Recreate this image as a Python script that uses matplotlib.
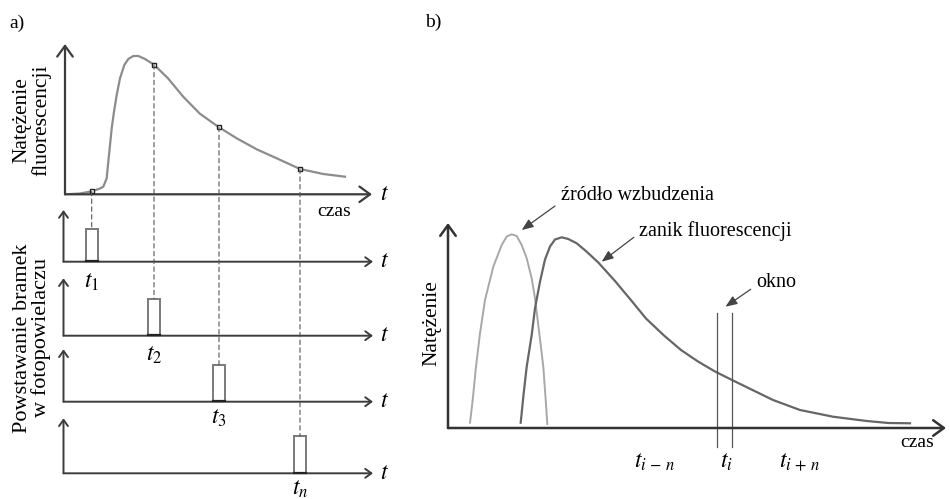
import matplotlib.pyplot as plt
from matplotlib.patches import Rectangle, ConnectionPatch
from matplotlib.transforms import Affine2D

plt.rcParams['font.family'] = ['Liberation Serif', 'DejaVu Serif']
plt.rcParams['mathtext.fontset'] = 'stix'

W, H = 950, 499

# a) fluorescence intensity after excitation
curve_t = [0, 15, 26.7, 35, 38.3, 41.7, 43.3, 45, 46.7, 49, 51.7, 55, 59.3, 63.3, 68.3,
           73.3, 80, 89, 103, 118.3, 135, 154, 171.7, 191.7, 211.7, 235, 258.3, 280]
curve_i = [0, 0.8, 3, 5.8, 7.6, 16, 32.6, 49.3, 66, 82.6, 99.3, 116, 129.3, 135.3, 138.3,
           138.3, 135.3, 129.6, 116, 97.5, 80.5, 67, 56, 45, 36, 25.3, 20.3, 17.6]

# sampling gates
gate_t = [26.7, 89, 154, 235]
gate_i = [3, 129.6, 67, 25.3]
gate_h = [33, 37, 37, 37]
gate_width = 12
gate_labels = [r'$t_1$', r'$t_2$', r'$t_3$', r'$t_n$']

# b) excitation pulse and fluorescence decay
exc_t = [22, 24.7, 28, 32, 37, 45.3, 53.7, 58.7, 63.7, 68.7, 73.7, 78.7, 83.7, 87,
         91.3, 95.3, 97.7, 99.3]
exc_i = [5.3, 28, 61.3, 94.7, 128, 161.3, 183, 191.5, 193.7, 192, 183, 169.7, 149.7,
         129.7, 94.7, 61.3, 28, 4]
dec_t = [72.7, 75.5, 78.7, 83.7, 87, 92, 97, 102, 107, 113.7, 120.3, 128.7, 138.7, 150.3,
         167, 183.7, 198, 216, 233, 250, 267, 284, 301, 325, 352, 385, 418.7, 440.5, 462]
dec_i = [5.3, 33, 61.3, 93, 119.7, 146.3, 168.5, 181.5, 188.5, 190.7, 189, 184.7, 176.3,
         165.5, 147, 127, 109.5, 92.5, 78, 66.5, 56.5, 48, 39.7, 28, 18, 11.3, 7, 5, 4.7]
window_t = [269, 284]
window_labels = [r'$t_{i\,-\,n}$', r'$t_i$', r'$t_{i\,+\,n}$']
window_label_x = [655, 726, 800]

AX = '#3c3c3c'

fig = plt.figure(figsize=(W / 100, H / 100), dpi=100)
pix = Affine2D().scale(1 / W, -1 / H).translate(0, 1) + fig.transFigure


def px_axes(x0, y0, x1, y1):
    ax = fig.add_axes([x0 / W, 1 - y0 / H, (x1 - x0) / W, (y0 - y1) / H])
    ax.set_axis_off()
    return ax


def arrows(ax, lw, ms, color=AX):
    style = '->,head_length=0.55,head_width=0.4'
    for end in [(1, 0), (0, 1)]:
        ax.annotate('', xy=end, xytext=(0, 0), xycoords='axes fraction',
                    arrowprops=dict(arrowstyle=style, lw=lw, color=color,
                                    shrinkA=0, shrinkB=0, mutation_scale=ms))


def ptext(x, y, s, **kw):
    kw.setdefault('ha', 'center')
    kw.setdefault('va', 'center')
    fig.text(x, y, s, transform=pix, **kw)


# --- panel a: top curve
ax_top = px_axes(65, 194.3, 372, 44)
ax_top.set_xlim(0, 307)
ax_top.set_ylim(0, 150.3)
ax_top.plot(curve_t, curve_i, color='#8c8c8c', lw=1.6, solid_joinstyle='round')
ax_top.plot(gate_t, gate_i, 's', ms=3.5, mfc='white', mec='#222', mew=1, zorder=5)
arrows(ax_top, 1.6, 14)
ptext(385, 194, r'$t$', fontsize=17)
ptext(334, 211, 'czas', fontsize=14)
ptext(17, 23, 'a)', fontsize=14)
ptext(32, 120, 'Natężenie\nfluorescencji', fontsize=15.5, rotation=90, linespacing=0.95)
ptext(32, 338, 'Powstawanie bramek\nw fotopowielaczu', fontsize=16, rotation=90,
      linespacing=0.95)

# --- panel a: gates
gate_axes_y = [(261.7, 210), (335.7, 278.3), (401.7, 349.3), (473.3, 418.3)]
label_y = [282, 355, 418, 489]
for k, (y0, y1) in enumerate(gate_axes_y):
    ax = px_axes(63.5, y0, 373, y1)
    ax.set_xlim(-1.5, 308)
    ax.set_ylim(0, y0 - y1)
    ax.add_patch(Rectangle((gate_t[k] - gate_width / 2, 0), gate_width, gate_h[k],
                           fc='white', ec='#7a7a7a', lw=1.4, zorder=3))
    ax.plot([gate_t[k] - gate_width / 2, gate_t[k] + gate_width / 2], [0.6, 0.6],
            color='#222', lw=1.6, zorder=4, clip_on=False)
    arrows(ax, 1.4, 8)
    con = ConnectionPatch(xyA=(gate_t[k], gate_i[k]), coordsA=ax_top.transData,
                          xyB=(gate_t[k], gate_h[k]), coordsB=ax.transData,
                          color='#555', lw=0.8, ls=(0, (4, 3)), zorder=1)
    fig.add_artist(con)
    ptext(385, y0, r'$t$', fontsize=17)
    ptext(gate_t[k] + 65, label_y[k], gate_labels[k], fontsize=17)

# --- panel b
ax_b = px_axes(448, 428, 946, 223)
ax_b.set_xlim(0, 498)
ax_b.set_ylim(0, 205)
ax_b.plot(exc_t, exc_i, color='#a8a8a8', lw=1.4, solid_joinstyle='round')
ax_b.plot(dec_t, dec_i, color='#666666', lw=1.6, solid_joinstyle='round')
for wt in window_t:
    ax_b.plot([wt, wt], [-19, 115], color='#555', lw=0.9, clip_on=False)
arrows(ax_b, 1.8, 14, color='#333')
for x, s in zip(window_label_x, window_labels):
    ptext(x, 462, s, fontsize=17)
ptext(917, 443, 'czas', fontsize=14)
ptext(432, 323, 'Natężenie', fontsize=15.5, rotation=90)
ptext(433, 22, 'b)', fontsize=14)

ann = dict(arrowstyle='-|>,head_length=0.5,head_width=0.2', lw=0.9, color='#444',
           shrinkA=0, shrinkB=0, mutation_scale=14)
ptext(637, 195, 'źródło wzbudzenia', fontsize=14.5)
ax_b.annotate('', xy=(521.7, 230), xytext=(555, 206), xycoords=pix, arrowprops=ann)
ptext(715, 231, 'zanik fluorescencji', fontsize=14.5)
ax_b.annotate('', xy=(601.7, 261.7), xytext=(633.8, 237.3), xycoords=pix, arrowprops=ann)
ptext(776, 283, 'okno', fontsize=14.5)
ax_b.annotate('', xy=(725.5, 306.7), xytext=(750.7, 289.3), xycoords=pix, arrowprops=ann)

fig.savefig('out.png', dpi=100)
